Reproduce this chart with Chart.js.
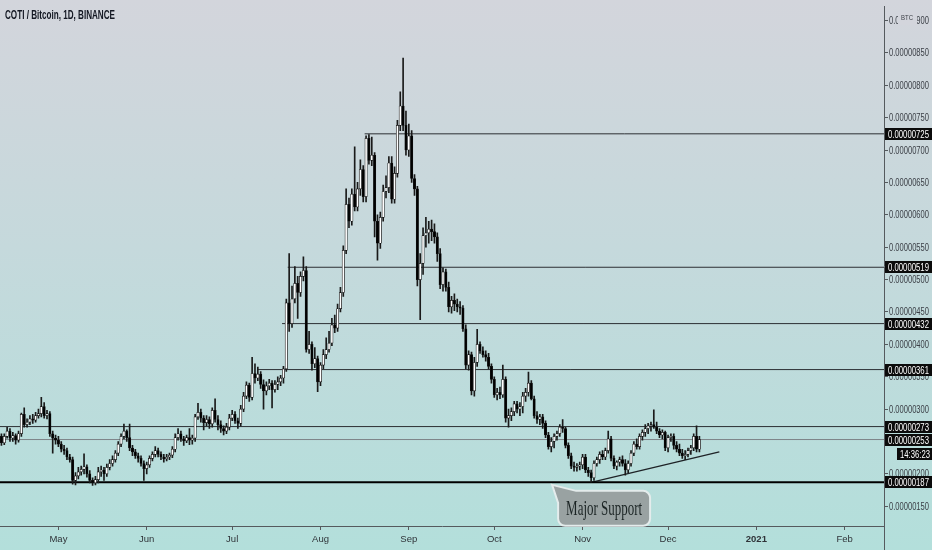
<!DOCTYPE html>
<html>
<head>
<meta charset="utf-8">
<script src="https://cdn.jsdelivr.net/npm/chart.js@4.4.0/dist/chart.umd.min.js"></script>
<style>
html,body{margin:0;padding:0;background:#c6d9dc;overflow:hidden}
#wrap{width:932px;height:550px;position:relative}
</style>
</head>
<body>
<div id="wrap"><canvas id="c" width="932" height="550"></canvas></div>
<script>
// ---- data (prices in satoshi, 1 = 0.00000001 BTC) ----
const title = 'COTI / Bitcoin, 1D, BINANCE';
const opens = [
258,248,258,266,255,259,252,262,292,276,280,285,283,290,293,304,290,293,262,255,
252,246,238,236,226,222,190,197,203,207,211,200,190,186,191,203,206,200,210,216,
222,232,246,258,266,256,240,234,228,224,216,208,214,224,230,236,230,226,223,226,
229,238,256,262,254,251,256,252,255,288,295,286,279,284,277,298,284,276,270,266,
272,286,292,282,278,300,320,337,318,355,348,354,338,328,336,340,330,338,342,348,
362,464,432,470,494,480,505,514,392,400,370,378,342,368,384,392,402,430,425,455,
480,545,616,590,632,612,640,670,628,718,684,692,590,556,596,636,642,680,624,664,
738,768,738,700,722,656,640,500,525,568,572,578,574,566,540,492,512,488,458,468,
462,458,456,424,368,384,328,372,400,390,384,380,366,346,322,326,322,346,286,290,
296,308,300,304,320,326,340,316,290,284,288,278,260,242,250,258,262,272,270,244,
228,212,210,212,214,226,206,202,194,216,222,230,226,236,254,224,212,218,222,216,
206,216,232,246,242,258,264,270,274,276,272,266,260,264,240,256,258,244,238,232,
228,230,236,240,258,238];
const highs = [
262,262,272,270,264,262,266,294,302,285,290,292,295,300,318,310,298,296,266,260,
258,250,244,240,230,226,202,210,212,231,214,205,194,196,210,212,210,215,222,228,
236,250,262,277,268,277,244,238,232,228,220,218,228,234,242,240,234,230,230,232,
242,262,270,266,258,260,270,260,292,309,300,290,290,288,302,316,290,282,274,278,
292,298,296,286,306,326,342,340,380,370,365,358,345,342,346,344,344,350,352,366,
470,540,490,520,505,512,535,520,420,404,395,382,372,392,410,420,440,445,462,488,
552,640,626,640,705,650,685,676,722,724,720,696,600,604,646,660,690,690,674,746,
790,842,760,740,730,662,644,540,580,596,590,592,586,572,548,518,516,496,474,478,
470,466,460,430,390,388,380,423,404,396,390,386,370,350,332,334,368,350,300,302,
312,312,310,326,332,357,344,320,296,292,292,282,264,256,262,266,276,284,272,248,
232,218,216,218,230,230,210,206,220,226,234,236,240,266,258,228,220,226,228,222,
220,236,250,254,262,268,276,278,280,299,280,270,268,266,260,262,262,250,246,238,
236,240,244,262,274,258];
const lows = [
244,245,255,250,250,246,249,258,272,272,276,278,280,286,288,286,285,258,232,246,
242,234,230,222,218,184,183,192,198,200,195,186,182,183,186,196,190,196,206,212,
218,228,242,254,250,236,228,224,218,212,190,200,210,220,226,226,222,218,220,222,
225,234,252,250,244,248,245,246,250,284,280,268,274,270,272,280,268,264,260,262,
268,282,278,270,274,296,316,312,314,340,344,332,300,322,330,302,326,330,336,340,
358,420,426,464,440,474,498,388,386,360,364,327,336,362,378,388,398,418,420,450,
474,540,580,584,606,606,630,620,620,678,676,566,530,548,590,626,634,618,618,658,
730,730,692,690,650,630,490,438,508,550,556,560,556,528,486,482,482,450,448,452,
450,446,420,362,360,322,320,366,386,380,374,362,340,318,314,316,318,280,272,282,
290,294,290,294,312,320,314,286,278,276,270,256,238,234,240,252,258,264,240,224,
208,204,204,206,208,202,196,187,190,212,216,222,222,232,220,208,206,212,212,198,
202,212,228,238,238,252,258,262,266,270,262,256,254,236,234,250,238,234,228,224,
222,226,230,236,234,234];
const closes = [
248,258,266,255,259,252,262,292,276,280,285,283,290,293,304,290,293,262,255,252,
246,238,236,226,222,190,197,203,207,211,200,190,186,191,203,206,200,210,216,222,
232,246,258,266,256,240,234,228,224,216,208,214,224,230,236,230,226,223,226,229,
238,256,262,254,251,256,252,255,288,295,286,279,284,277,298,284,276,270,266,272,
286,292,282,278,300,320,337,318,355,348,354,338,328,336,340,330,338,342,348,362,
464,432,470,494,480,505,514,392,400,370,378,342,368,384,392,402,430,425,455,480,
545,616,590,632,612,640,670,628,718,684,692,590,556,596,636,642,680,624,664,738,
768,738,700,722,656,640,500,525,568,572,578,574,566,540,492,512,488,458,468,462,
458,456,424,368,384,328,372,400,390,384,380,366,346,322,326,322,346,286,290,296,
308,300,304,320,326,340,316,290,284,288,278,260,242,250,258,262,272,270,244,228,
212,210,212,214,226,206,202,194,216,222,230,226,236,254,224,212,218,222,216,206,
216,232,246,242,258,264,270,274,276,272,266,260,264,240,256,258,244,238,232,228,
230,236,240,258,238,253];
const monthTicks  = [20, 51, 81, 112, 143, 173, 204, 234, 265, 296];
const monthLabels = ['May','Jun','Jul','Aug','Sep','Oct','Nov','Dec','2021','Feb'];
const yTicks = [150,200,250,300,350,400,450,500,550,600,650,700,750,800,850,900];
const levels      = [725, 519, 432, 361, 273, 187];
const levelStarts = [127.5, 100.5, 98.5, 90, -0.5, -0.5];
const lastPrice = 253;
const countdown = '14:36:23';
const trendFrom = [207, 187];
const trendTo   = [252, 234];
const noteText = 'Major Support';
const notePoint = [193.3, 183];

// ---- build ----
const X_MIN = -0.5, X_MAX = 309.8, Y_MIN = 119.5, Y_MAX = 921.3;
const SANS = "'Liberation Sans', Arial, sans-serif";
const days = opens.map((v, i) => i);
const fmt = v => (v / 1e8).toFixed(8);

const datasets = [
  {
    type: 'bar', label: 'body', grouped: false,
    data: days.map(i => ({x: i, y: [opens[i], closes[i]]})),
    backgroundColor: days.map(i => closes[i] >= opens[i] ? '#ffffff' : '#000000'),
    borderColor: '#111111', borderWidth: 0.7, borderSkipped: false,
    barThickness: 2.4
  },
  {
    type: 'bar', label: 'wick', grouped: false,
    data: days.map(i => ({x: i, y: [lows[i], highs[i]]})),
    backgroundColor: '#1a1a1a', borderWidth: 0, barThickness: 1
  }
];
levels.forEach((v, k) => {
  const major = v === 187;
  datasets.push({
    type: 'line', label: 'L' + v,
    data: [{x: levelStarts[k], y: v}, {x: X_MAX, y: v}],
    borderColor: major ? '#000000' : '#2c2f33', borderWidth: major ? 2 : 1,
    pointRadius: 0, fill: false
  });
});
datasets.push({
  type: 'line', label: 'last',
  data: [{x: X_MIN, y: lastPrice}, {x: X_MAX, y: lastPrice}],
  borderColor: '#7d8488', borderWidth: 1, pointRadius: 0, fill: false
});
datasets.push({
  type: 'line', label: 'trend',
  data: [{x: trendFrom[0], y: trendFrom[1]}, {x: trendTo[0], y: trendTo[1]}],
  borderColor: '#1e2226', borderWidth: 1.3, pointRadius: 0, fill: false
});

const bgPlugin = {
  id: 'bg',
  beforeDraw(chart) {
    const c = chart.ctx;
    const g = c.createLinearGradient(0, 0, 0, chart.height);
    g.addColorStop(0, '#d3d5dc');
    g.addColorStop(0.45, '#c5d9dc');
    g.addColorStop(1, '#b3dfdb');
    c.save(); c.fillStyle = g; c.fillRect(0, 0, chart.width, chart.height); c.restore();
  }
};

function scaledText(c, text, x, y, font, targetW, align) {
  c.font = font;
  const w = c.measureText(text).width;
  const s = targetW / w;
  c.save();
  c.translate(x, y);
  c.scale(s, 1);
  c.textAlign = align || 'left';
  c.fillText(text, 0, 0);
  c.restore();
}

const overlayPlugin = {
  id: 'overlay',
  afterDraw(chart) {
    const c = chart.ctx, xs = chart.scales.x, ys = chart.scales.y;
    const axisX = chart.chartArea.right;
    c.save();
    // extend right axis line to bottom
    c.strokeStyle = '#555a5e'; c.lineWidth = 1;
    c.beginPath(); c.moveTo(axisX + 0.5, chart.chartArea.bottom); c.lineTo(axisX + 0.5, chart.height); c.stroke();

    // y tick labels (horizontally condensed like the reference)
    c.textBaseline = 'middle';
    c.fillStyle = '#3a3e45';
    yTicks.forEach(v => {
      const py = ys.getPixelForValue(v);
      scaledText(c, fmt(v), axisX + 5, py + 0.5, '11px ' + SANS, 40, 'left');
    });

    // BTC unit label over the top tick
    const p9 = Math.round(ys.getPixelForValue(900));
    c.fillStyle = '#d3d5dc';
    c.fillRect(axisX + 14, p9 - 8, 19, 13);
    c.fillStyle = '#3a3e45';
    scaledText(c, 'BTC', axisX + 17, p9 - 2, '8px ' + SANS, 12, 'left');

    // level boxes
    const boxes = levels.concat([lastPrice]);
    boxes.forEach(v => {
      const py = Math.round(ys.getPixelForValue(v));
      c.fillStyle = '#0b0b0b';
      c.fillRect(axisX + 1, py - 6, 47, 12);
      c.fillStyle = '#ffffff';
      scaledText(c, fmt(v), axisX + 4, py + 0.5, '11px ' + SANS, 41, 'left');
    });
    // countdown
    const pl = Math.round(ys.getPixelForValue(lastPrice));
    c.fillStyle = '#0b0b0b';
    c.fillRect(axisX + 13, pl + 8, 35, 12);
    c.fillStyle = '#ffffff';
    scaledText(c, countdown, axisX + 16, pl + 14.5, '11px ' + SANS, 30, 'left');

    // title
    c.fillStyle = '#131722';
    c.textBaseline = 'alphabetic';
    scaledText(c, title, 5, 19, "bold 13px " + SANS, 110, 'left');

    // callout
    const ax = xs.getPixelForValue(notePoint[0]);
    const ay = ys.getPixelForValue(notePoint[1]);
    const bx = ax + 6, by = ay + 6, bw = 92, bh = 35, r = 7;
    c.beginPath();
    c.moveTo(ax, ay);
    c.lineTo(bx + 18, by);
    c.lineTo(bx + bw - r, by);
    c.arcTo(bx + bw, by, bx + bw, by + r, r);
    c.lineTo(bx + bw, by + bh - r);
    c.arcTo(bx + bw, by + bh, bx + bw - r, by + bh, r);
    c.lineTo(bx + r, by + bh);
    c.arcTo(bx, by + bh, bx, by + bh - r, r);
    c.lineTo(bx, by + 12);
    c.closePath();
    c.fillStyle = '#99a2a2';
    c.fill();
    c.lineWidth = 2;
    c.strokeStyle = '#e4ecec';
    c.stroke();
    c.fillStyle = '#1b2424';
    c.textBaseline = 'middle';
    scaledText(c, noteText, bx + bw / 2, by + bh / 2 + 1, "21px 'Liberation Serif','DejaVu Serif',serif", 76, 'center');
    c.restore();
  }
};

new Chart(document.getElementById('c'), {
  type: 'bar',
  data: {datasets},
  options: {
    responsive: false,
    animation: false,
    devicePixelRatio: 1,
    layout: {padding: 0},
    plugins: {legend: {display: false}, tooltip: {enabled: false}},
    scales: {
      x: {
        type: 'linear', min: X_MIN, max: X_MAX, offset: false,
        grid: {drawOnChartArea: false, offset: false, tickLength: 4, color: '#555a5e'},
        border: {display: true, color: '#555a5e'},
        afterBuildTicks: s => { s.ticks = monthTicks.map(v => ({value: v})); },
        afterFit: s => { s.height = 24; },
        ticks: {
          autoSkip: false, maxRotation: 0, padding: 4, color: '#2f3338',
          font: ctx => ({family: SANS, size: 9.5, weight: (ctx.tick && ctx.tick.value === 265) ? 'bold' : 'normal'}),
          callback: v => monthLabels[monthTicks.indexOf(v)]
        }
      },
      y: {
        type: 'linear', position: 'right', min: Y_MIN, max: Y_MAX, beginAtZero: false,
        grid: {drawOnChartArea: false, tickLength: 4, color: '#555a5e'},
        border: {display: true, color: '#555a5e'},
        afterBuildTicks: s => { s.ticks = yTicks.map(v => ({value: v})); },
        afterFit: s => { s.width = 48; },
        ticks: {
          padding: 1, color: 'rgba(0,0,0,0)',
          font: {family: SANS, size: 9.5},
          callback: v => fmt(v)
        }
      }
    }
  },
  plugins: [bgPlugin, overlayPlugin]
});
</script>
</body>
</html>
